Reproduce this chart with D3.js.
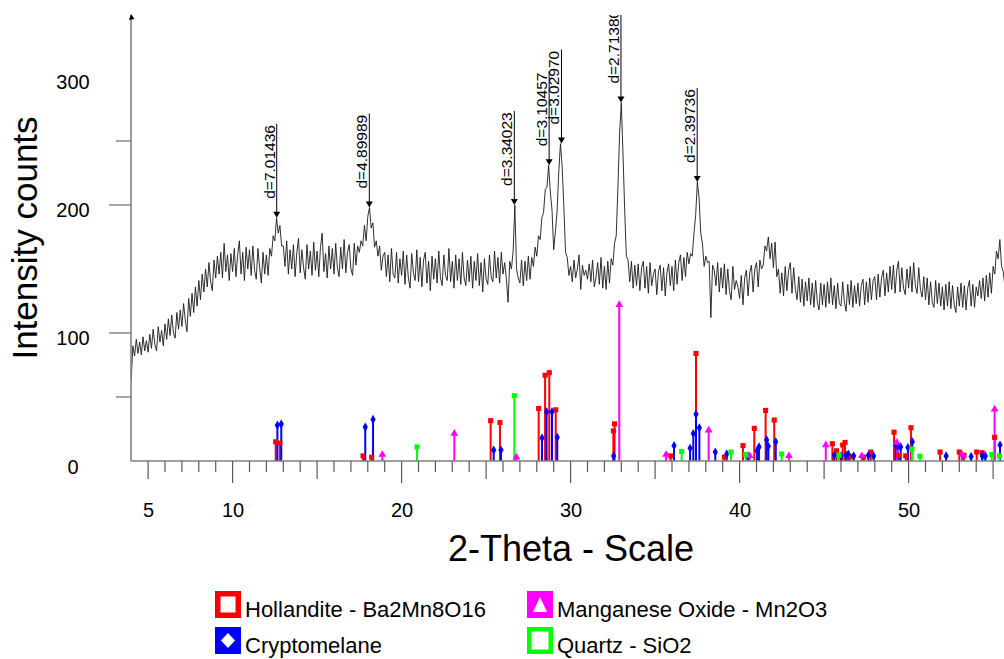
<!DOCTYPE html>
<html>
<head>
<meta charset="utf-8">
<script src="https://cdn.jsdelivr.net/npm/d3@7"></script>
<style>
  body { margin: 0; background: #fff; }
  svg { display: block; font-family: "Liberation Sans", Arial, sans-serif; }
</style>
</head>
<body>
<script>
// measured scan: 2-theta from 4.0 in steps of 0.1 deg, one row per degree
let scanStart = 4.0;
let scanStep = 0.1;
let counts = [
  63, 90, 82, 95, 84, 93, 83, 97, 86, 94,           // 4
  85, 99, 88, 103, 91, 86, 105, 93, 102, 90,        // 5
  107, 95, 111, 98, 114, 100, 96, 116, 103, 118,    // 6
  105, 123, 110, 101, 127, 113, 131, 116, 136, 121, // 7
  141, 126, 146, 132, 150, 136, 155, 140, 133, 157, // 8
  143, 160, 146, 163, 143, 170, 148, 161, 141, 162, // 9
  148, 166, 144, 161, 172, 146, 163, 141, 167, 150, // 10
  165, 145, 168, 149, 142, 166, 151, 139, 163, 146, // 11
  161, 145, 166, 160, 176, 172, 190, 178, 184, 168, // 12
  168, 152, 172, 146, 165, 150, 169, 144, 163, 174, // 13
  147, 165, 151, 142, 169, 150, 164, 145, 171, 149, // 14
  164, 144, 167, 178, 148, 162, 143, 168, 150, 166, // 15
  146, 170, 151, 144, 167, 150, 173, 147, 163, 169, // 16
  150, 145, 170, 153, 168, 163, 172, 168, 184, 172, // 17
  191, 198, 182, 186, 167, 172, 160, 168, 149, 160, // 18
  163, 144, 161, 140, 166, 146, 143, 163, 139, 158, // 19
  145, 164, 138, 161, 143, 135, 162, 147, 141, 165, // 20
  140, 159, 136, 157, 163, 139, 156, 133, 160, 142, // 21
  158, 139, 164, 143, 137, 161, 145, 141, 166, 140, // 22
  156, 135, 161, 141, 158, 138, 163, 143, 137, 157, // 23
  140, 160, 135, 156, 141, 162, 137, 155, 132, 158, // 24
  142, 138, 161, 144, 140, 164, 143, 159, 139, 163, // 25
  146, 155, 142, 124, 156, 150, 164, 200, 150, 143, // 26
  139, 157, 137, 156, 141, 160, 142, 159, 152, 167, // 27
  160, 176, 173, 190, 194, 212, 214, 231, 210, 196, // 28
  165, 179, 195, 226, 248, 230, 199, 163, 159, 145, // 29
  152, 140, 157, 143, 150, 161, 134, 153, 145, 149, // 30
  142, 154, 140, 157, 136, 143, 155, 138, 159, 135, // 31
  152, 134, 156, 139, 158, 153, 170, 176, 214, 256, // 32
  280, 240, 196, 160, 157, 140, 156, 135, 153, 137, // 33
  154, 133, 151, 156, 135, 152, 131, 155, 137, 146, // 34
  150, 130, 148, 153, 133, 151, 129, 147, 154, 137, // 35
  152, 133, 157, 138, 155, 161, 141, 159, 144, 163, // 36
  154, 162, 160, 178, 192, 218, 206, 178, 170, 152, // 37
  160, 155, 156, 112, 153, 149, 137, 155, 132, 151, // 38
  135, 154, 130, 150, 133, 126, 152, 134, 141, 136, // 39
  127, 145, 122, 143, 149, 129, 147, 153, 132, 150, // 40
  155, 136, 157, 150, 153, 168, 164, 175, 158, 170, // 41
  151, 171, 144, 150, 131, 147, 129, 152, 133, 149, // 42
  155, 131, 151, 134, 126, 144, 124, 142, 121, 140, // 43
  125, 143, 122, 139, 120, 141, 124, 118, 139, 122, // 44
  138, 120, 140, 123, 143, 122, 137, 119, 139, 123, // 45
  121, 140, 124, 117, 138, 122, 141, 120, 137, 123, // 46
  139, 121, 137, 142, 122, 140, 124, 143, 126, 141, // 47
  144, 126, 146, 128, 143, 149, 129, 147, 132, 152, // 48
  134, 153, 131, 149, 156, 132, 151, 135, 130, 150, // 49
  135, 152, 132, 155, 137, 131, 151, 134, 128, 144, // 50
  126, 143, 122, 140, 124, 120, 141, 123, 139, 121, // 51
  136, 118, 138, 121, 140, 119, 137, 122, 116, 136, // 52
  121, 139, 120, 137, 118, 135, 141, 121, 138, 120, // 53
  136, 129, 141, 127, 143, 125, 145, 128, 147, 131, // 54
  152, 146, 164, 158, 173, 152, 148, 136            // 55
];

// reference patterns: [2-theta, relative intensity in counts]
let hollandite = [[12.55, 15], [12.8, 14], [17.72, 4], [18.23, 3], [25.27, 31.5], [25.82, 30], [28.11, 41],
  [28.49, 67], [28.74, 69], [29.12, 40], [32.53, 23.5], [32.6, 29], [35.92, 4], [37.42, 84], [39.1, 3],
  [40.2, 12], [40.87, 25.5], [41.54, 39.5], [42.05, 32], [45.49, 13.5], [45.74, 8], [46.1, 12.5],
  [46.24, 14.5], [46.55, 3.5], [47.34, 3], [47.76, 7], [49.14, 22.5], [49.43, 4.5], [49.83, 4], [50.14, 26],
  [51.86, 7], [53.0, 7], [53.28, 4.5], [54.03, 7], [54.35, 6.5], [55.09, 18.5]];
let cryptomelane = [[12.65, 28], [12.88, 29], [17.85, 26.5], [18.31, 32.5], [25.45, 8.5], [25.88, 8.5],
  [28.31, 18], [28.58, 38.5], [28.9, 38.5], [29.21, 18.5], [32.55, 4], [36.12, 12], [37.07, 10], [37.26, 21.5],
  [37.42, 36.5], [37.62, 26], [38.56, 7], [39.24, 5.5], [40.48, 4], [41.03, 8], [41.15, 11], [41.6, 16.5],
  [41.7, 11.5], [42.14, 15], [45.6, 4.5], [46.0, 4], [46.3, 4.5], [46.43, 5.5], [46.75, 4], [47.62, 4.5],
  [47.93, 4], [49.24, 12.5], [49.35, 11.5], [49.53, 11], [49.96, 10.5], [50.22, 15], [52.22, 4], [53.7, 3.5],
  [54.36, 4], [54.54, 4], [55.41, 12.5]];
let manganeseOxide = [[18.86, 5], [23.12, 21.5], [26.79, 3], [32.88, 122], [35.65, 5], [38.17, 24], [40.6, 4],
  [42.92, 4], [45.1, 12.5], [47.23, 4], [49.31, 14.5], [53.16, 5], [55.09, 40.5]];
let quartz = [[20.91, 11], [26.67, 51], [36.57, 7.5], [39.49, 7], [40.36, 5], [42.49, 5.5], [45.88, 4.5],
  [50.2, 9.5], [50.67, 3.7], [54.92, 5], [55.37, 4]];

// labelled peaks
let peakTheta = [12.61, 18.09, 26.67, 28.73, 29.46, 32.98, 37.49];
let peakCounts = [190, 198, 200, 231, 248, 280, 218];
let peakLabels = ["d=7.01436", "d=4.89989", "d=3.34023", "d=3.10457", "d=3.02970", "d=2.71380", "d=2.39736"];

let xLabelTicks = [5, 10, 20, 30, 40, 50];
let yLabelTicks = [0, 100, 200, 300];
let yMarkTicks = [50, 100, 200, 250];

let phaseNames = ["Hollandite - Ba2Mn8O16", "Cryptomelane", "Manganese Oxide - Mn2O3", "Quartz - SiO2"];
let phaseColors = ["#ff0000", "#0000ff", "#ff00ff", "#00ff00"];

let width = 1004;
let height = 659;

let svg = d3.select("body").append("svg")
  .attr("width", width)
  .attr("height", height);

let x = d3.scaleLinear().domain([4, 56]).range([131.2, 1010]);
let y = d3.scaleLinear().domain([0, 348.4]).range([461, 15]);

svg.append("defs").append("clipPath").attr("id", "plotclip")
  .append("rect").attr("x", 131).attr("y", 15).attr("width", 900).attr("height", 447);

let plot = svg.append("g").attr("clip-path", "url(#plotclip)");

// stick patterns first (lines, then markers on top)
let phases = [hollandite, cryptomelane, manganeseOxide, quartz];
let symbols = [d3.symbolSquare, d3.symbolDiamond, d3.symbolTriangle, d3.symbolSquare];
let symbolSizes = [26, 24, 26, 26];

phases.forEach((p, k) => {
  plot.append("g").selectAll("line").data(p).join("line")
    .attr("x1", d => x(d[0])).attr("x2", d => x(d[0]))
    .attr("y1", y(0)).attr("y2", d => y(d[1]))
    .attr("stroke", phaseColors[k]).attr("stroke-width", 2);
});
phases.forEach((p, k) => {
  plot.append("g").selectAll("path").data(p).join("path")
    .attr("transform", d => "translate(" + x(d[0]) + "," + y(d[1]) + ")")
    .attr("d", d3.symbol().type(symbols[k]).size(symbolSizes[k]))
    .attr("fill", phaseColors[k]);
});

// the scan
let line = d3.line()
  .x((d, i) => x(scanStart + i * scanStep))
  .y(d => y(d));

plot.append("path")
  .datum(counts)
  .attr("fill", "none")
  .attr("stroke", "#1a1a1a")
  .attr("stroke-width", 0.9)
  .attr("d", line);

// peak labels with arrows
let peaks = plot.append("g").selectAll("g").data(peakTheta).join("g");
peaks.append("line")
  .attr("x1", d => x(d)).attr("x2", d => x(d))
  .attr("y1", (d, i) => y(peakCounts[i]) - 94)
  .attr("y2", (d, i) => y(peakCounts[i]) - 5)
  .attr("stroke", "#000").attr("stroke-width", 1);
peaks.append("path")
  .attr("d", (d, i) => {
    let px = x(d), py = y(peakCounts[i]);
    return "M" + (px - 3.5) + "," + (py - 6) + "L" + (px + 3.5) + "," + (py - 6) + "L" + px + "," + py + "Z";
  })
  .attr("fill", "#000");
peaks.append("text")
  .attr("transform", (d, i) => "translate(" + (x(d) - 2) + "," + (y(peakCounts[i]) - 19) + ") rotate(-90)")
  .attr("font-size", "15.5px")
  .attr("fill", "#000")
  .text((d, i) => peakLabels[i]);

// axes
let axisColor = "#808080";
svg.append("line").attr("x1", 131).attr("x2", width).attr("y1", y(0)).attr("y2", y(0))
  .attr("stroke", axisColor).attr("stroke-width", 1.6);
svg.append("line").attr("x1", 131).attr("x2", 131).attr("y1", 15).attr("y2", y(0))
  .attr("stroke", axisColor).attr("stroke-width", 1.6);
svg.append("path").attr("d", "M129,20L131,14L134.5,19Z").attr("fill", "#000");

// x ticks: every degree, longer every 5 and 10
svg.append("g").selectAll("line").data(d3.range(5, 56)).join("line")
  .attr("x1", d => x(d)).attr("x2", d => x(d))
  .attr("y1", y(0))
  .attr("y2", d => y(0) + (d % 10 === 0 ? 22 : d % 5 === 0 ? 18 : 11))
  .attr("stroke", "#5a5a5a").attr("stroke-width", 1.2);

let xAxis = d3.axisBottom(x).tickValues(xLabelTicks).tickSize(0).tickPadding(0);
let xAxisGroup = svg.append("g").attr("transform", "translate(0,517)").call(xAxis);
xAxisGroup.select(".domain").remove();
xAxisGroup.selectAll("text")
  .attr("dy", null).attr("y", 0)
  .attr("font-size", "20px").attr("font-family", "Liberation Sans, Arial, sans-serif").attr("fill", "#000");

// y ticks
svg.append("g").selectAll("line").data(yMarkTicks).join("line")
  .attr("x1", d => d % 100 === 0 ? 109 : 116).attr("x2", 131)
  .attr("y1", d => y(d)).attr("y2", d => y(d))
  .attr("stroke", axisColor).attr("stroke-width", 1.4);

svg.append("g").selectAll("text").data(yLabelTicks).join("text")
  .attr("x", 73).attr("y", d => y(d) + 12.5)
  .attr("text-anchor", "middle")
  .attr("font-size", "20px")
  .text(d => d);

// axis titles
svg.append("text")
  .attr("x", 571).attr("y", 561)
  .attr("text-anchor", "middle")
  .attr("font-size", "36px")
  .text("2-Theta - Scale");
svg.append("text")
  .attr("transform", "translate(37,238) rotate(-90)")
  .attr("text-anchor", "middle")
  .attr("font-size", "35px")
  .text("Intensity counts");

// legend
let legendX = [215, 215, 527, 527];
let legendY = [591, 627, 591, 627];
let leg = svg.append("g").selectAll("g").data(phaseNames).join("g")
  .attr("transform", (d, i) => "translate(" + legendX[i] + "," + legendY[i] + ")");
leg.append("rect").attr("width", 26).attr("height", 27).attr("fill", (d, i) => phaseColors[i]);
leg.append("path")
  .attr("fill", "#fff")
  .attr("d", (d, i) => [
    "M5.5,5.5H20.5V21.5H5.5Z",
    "M13,6L20,13.5L13,21L6,13.5Z",
    "M13,6L20,21H6Z",
    "M4.5,4.5H21.5V22.5H4.5Z"
  ][i]);
leg.append("text")
  .attr("x", 30).attr("y", 26)
  .attr("font-size", "22px")
  .text(d => d);
</script>
</body>
</html>
